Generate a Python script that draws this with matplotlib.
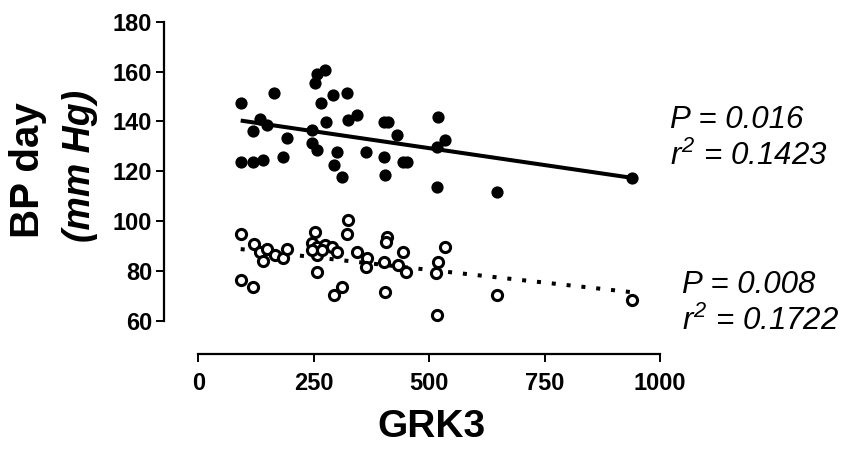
import numpy as np
import matplotlib
matplotlib.use("Agg")
import matplotlib.pyplot as plt

# ---- data ----
grk3_day = [91.8, 164.6, 256.4, 274.4, 252.8, 291.1, 321.4, 265.1, 133.6, 149.4,
            119.1, 191.5, 245.6, 275.9, 323.6, 343.1, 402.2, 410.9, 429.7, 519.8,
            534.3, 516.3, 91.8, 119.1, 140.8, 182.8, 245.6, 256.4, 299.8, 293.9,
            310.6, 362.6, 402.9, 404.4, 444.0, 452.7, 516.3, 646.3, 940.0]
bp_day = [147.5, 151.5, 159.0, 160.6, 155.5, 150.6, 151.5, 147.5, 140.8, 138.6,
          136.3, 133.5, 136.6, 139.6, 140.6, 142.6, 139.6, 139.6, 134.5, 141.6,
          132.5, 129.6, 123.6, 123.6, 124.5, 125.6, 131.5, 128.5, 127.6, 122.5,
          117.6, 127.6, 125.6, 118.5, 123.6, 123.6, 113.6, 111.6, 117.4]

grk3_open = [91.8, 120.6, 133.6, 139.5, 149.4, 166.1, 182.8, 191.5, 91.8, 119.1,
             252.8, 245.6, 256.4, 274.4, 288.9, 299.8, 256.4, 245.6, 267.3, 256.4,
             324.9, 321.4, 310.6, 293.9, 343.1, 364.7, 362.6, 402.9, 408.1, 405.9,
             404.4, 431.9, 444.0, 449.9, 534.3, 519.8, 514.8, 516.3, 646.3, 940.0]
bp_open = [94.7, 90.7, 87.8, 84.2, 88.7, 86.5, 85.1, 88.9, 76.4, 73.5,
           95.8, 91.4, 89.8, 90.5, 89.8, 87.8, 86.5, 88.5, 88.5, 79.8,
           100.5, 94.7, 73.5, 70.4, 87.5, 85.1, 81.5, 83.5, 93.8, 91.5,
           71.7, 82.4, 87.5, 79.5, 89.5, 83.8, 79.4, 62.4, 70.4, 68.4]

# regression lines (slope, intercept)
fit_day = (-0.0271, 142.85)
fit_open = (-0.0204, 90.7)

xticks = [0, 250, 500, 750, 1000]
yticks = [60, 80, 100, 120, 140, 160, 180]

stats_day = ["P = 0.016", "0.1423"]
stats_open = ["P = 0.008", "0.1722"]

# ---- style ----
plt.rcParams['font.family'] = ['Liberation Sans', 'DejaVu Sans']
plt.rcParams['mathtext.fontset'] = 'custom'
plt.rcParams['mathtext.it'] = 'Liberation Sans:italic'
plt.rcParams['mathtext.rm'] = 'Liberation Sans:italic'

W, H = 844, 451
fig = plt.figure(figsize=(W / 100, H / 100), dpi=100)
ax = fig.add_axes([164 / W, (H - 354) / H, (660 - 164) / W, (354 - 21.7) / H])
ax.set_xlim(-74.3, 1000)
ax.set_ylim(46.77, 180)

for s in ['top', 'right']:
    ax.spines[s].set_visible(False)
ax.spines['left'].set_bounds(60, 180)
ax.spines['bottom'].set_bounds(0, 1000)
for s in ['left', 'bottom']:
    ax.spines[s].set_linewidth(1.6)

ax.set_xticks(xticks)
ax.set_yticks(yticks)
ax.set_xticklabels([str(t) for t in xticks], fontsize=17, fontweight='bold')
ax.set_yticklabels([str(t) for t in yticks], fontsize=17, fontweight='bold')
ax.tick_params(axis='both', direction='out', length=6, width=1.4)
ax.tick_params(axis='x', pad=7)
ax.tick_params(axis='y', pad=2.5)

# regression lines
xd = np.array([min(grk3_day), max(grk3_day)])
ax.plot(xd, fit_day[1] + fit_day[0] * xd, color='black', lw=2.9,
        solid_capstyle='butt', zorder=2)
xo = np.array([min(grk3_open), max(grk3_open)])
ax.plot(xo, fit_open[1] + fit_open[0] * xo, color='black', lw=2.9,
        linestyle=(0, (1, 2.7)), dash_capstyle='butt', zorder=2)

# points
ax.plot(grk3_day, bp_day, 'o', ms=8.8, mfc='black', mec='black', mew=0,
        clip_on=False, zorder=3)
ax.plot(grk3_open, bp_open, 'o', ms=7.3, mfc='white', mec='black', mew=2.2,
        clip_on=False, zorder=3)

# axis labels
fig.text(28.3 / W, 1 - 170 / H, 'BP day', rotation=90, fontsize=29,
         fontweight='bold', ha='center', va='center')
fig.text(80 / W, 1 - 166 / H, '(mm Hg)', rotation=90, fontsize=27,
         fontweight='bold', fontstyle='italic', ha='center', va='center')
fig.text(431.3 / W, 1 - 427.3 / H, 'GRK3', fontsize=28, fontweight='bold',
         ha='center', va='center')

# statistics
fs = 22.5
fig.text(670 / W, 1 - 128.3 / H, stats_day[0], fontsize=fs, fontstyle='italic',
         ha='left', va='baseline')
fig.text(670 / W, 1 - 165 / H, r'$r^{2}$' + ' = ' + stats_day[1], fontsize=fs,
         fontstyle='italic', ha='left', va='baseline')
fig.text(681.7 / W, 1 - 293.3 / H, stats_open[0], fontsize=fs, fontstyle='italic',
         ha='left', va='baseline')
fig.text(681.7 / W, 1 - 330 / H, r'$r^{2}$' + ' = ' + stats_open[1], fontsize=fs,
         fontstyle='italic', ha='left', va='baseline')

fig.savefig('out.png', dpi=100)
